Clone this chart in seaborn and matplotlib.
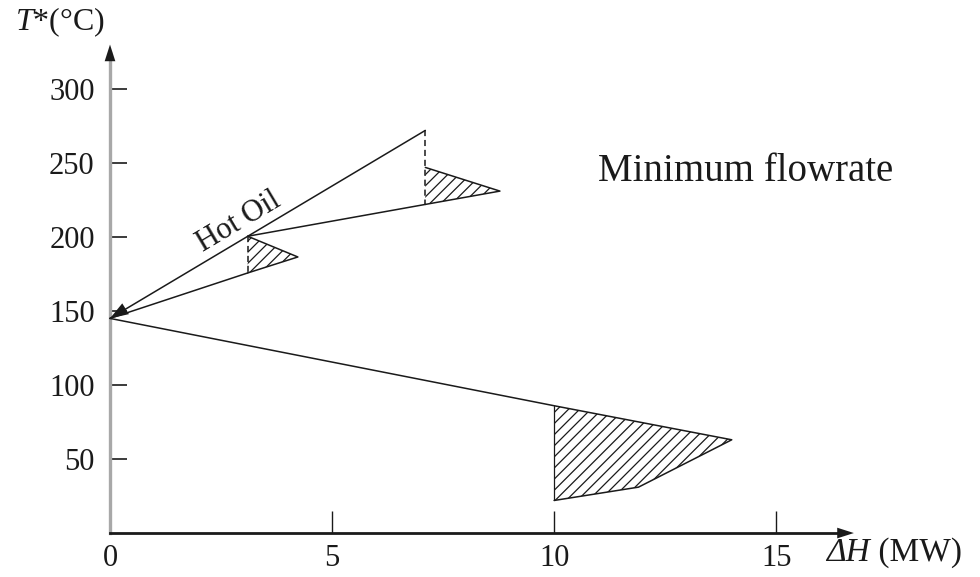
import numpy as np
import matplotlib
matplotlib.use("Agg")
import matplotlib.pyplot as plt
import seaborn as sns

# ---- data: grand composite curve with hot-oil utility profile ----
hot_oil_dh = [0.0, 7.1]
hot_oil_t = [145.0, 272.0]

upper_pocket_dh = [7.1, 8.78, 7.1]
upper_pocket_t = [247.0, 231.0, 222.0]

middle_pocket_dh = [3.1, 4.23, 3.1]
middle_pocket_t = [200.5, 186.5, 175.7]

gcc_upper_dh = [7.1, 3.1]
gcc_upper_t = [222.0, 200.5]

gcc_mid_dh = [3.1, 0.0]
gcc_mid_t = [175.7, 145.0]

gcc_lower_dh = [0.0, 10.0, 14.0, 11.9, 10.0]
gcc_lower_t = [145.0, 86.0, 63.0, 31.0, 22.0]

x_ticks = [0, 5, 10, 15]
y_ticks = [50, 100, 150, 200, 250, 300]

sns.set_theme(style="white")
plt.rcParams["font.family"] = ["Liberation Serif", "DejaVu Serif"]
plt.rcParams["mathtext.fontset"] = "custom"
plt.rcParams["mathtext.rm"] = "Liberation Serif"
plt.rcParams["mathtext.it"] = "Liberation Serif:italic"
plt.rcParams["hatch.linewidth"] = 0.9

FS = 22
INK = "#1a1a1a"

fig = plt.figure(figsize=(9.8, 5.77), dpi=100)
ax = fig.add_axes([0, 0, 1, 1])
ax.set_xlim(-2.477, 19.59)
ax.set_ylim(-29.7, 360.1)

# axes through the origin
for side in ("top", "right"):
    ax.spines[side].set_visible(False)
ax.spines["left"].set_position(("data", 0))
ax.spines["bottom"].set_position(("data", 0))
ax.spines["left"].set_bounds(0, 324)
ax.spines["bottom"].set_bounds(0, 16.4)
ax.spines["left"].set_color("#a8a8a8")
ax.spines["left"].set_linewidth(2.4)
ax.spines["bottom"].set_color(INK)
ax.spines["bottom"].set_linewidth(2.0)
ax.spines["left"].set_zorder(1)

ax.set_xticks(x_ticks)
ax.set_yticks(y_ticks)
ax.set_xticklabels([str(v) for v in x_ticks])
ax.set_yticklabels([str(v) for v in y_ticks])
ax.tick_params(axis="y", direction="in", length=12, width=1.2, color=INK,
               pad=11, labelsize=FS, labelcolor=INK, left=True)
ax.tick_params(axis="x", direction="in", length=16, width=1.0, color=INK,
               pad=8, labelsize=FS, labelcolor=INK, bottom=True)
ax.grid(False)

# axis arrowheads
head = "-|>,head_length=1.0,head_width=0.32"
ax.annotate("", xy=(0, 330), xytext=(0, 316),
            arrowprops=dict(arrowstyle=head, color=INK, lw=0, shrinkA=0, shrinkB=0))
ax.annotate("", xy=(16.75, 0), xytext=(16.3, 0),
            arrowprops=dict(arrowstyle=head, color=INK, lw=0, shrinkA=0, shrinkB=0))

line_kw = dict(color=INK, linewidth=1.1, sort=False, estimator=None, ax=ax)
dash_kw = dict(color=INK, linewidth=1.1, sort=False, estimator=None, ax=ax,
               linestyle=(0, (4, 2.5)))

# hatched heat pockets
for dh, t in ((upper_pocket_dh, upper_pocket_t),
              (middle_pocket_dh, middle_pocket_t),
              (gcc_lower_dh[1:], gcc_lower_t[1:])):
    ax.fill(dh, t, facecolor="none", edgecolor=INK, hatch="///", linewidth=0)

# hot oil line
sns.lineplot(x=hot_oil_dh, y=hot_oil_t, **line_kw)

# grand composite curve segments
sns.lineplot(x=upper_pocket_dh, y=upper_pocket_t, **line_kw)
sns.lineplot(x=middle_pocket_dh, y=middle_pocket_t, **line_kw)
sns.lineplot(x=gcc_upper_dh, y=gcc_upper_t, **line_kw)
sns.lineplot(x=gcc_mid_dh, y=gcc_mid_t, **line_kw)
sns.lineplot(x=gcc_lower_dh, y=gcc_lower_t, **line_kw)

# vertical drops at the pocket boundaries
sns.lineplot(x=[hot_oil_dh[1], gcc_upper_dh[0]], y=[hot_oil_t[1], gcc_upper_t[0]], **dash_kw)
sns.lineplot(x=[middle_pocket_dh[0], middle_pocket_dh[2]],
             y=[middle_pocket_t[0], middle_pocket_t[2]], **dash_kw)
sns.lineplot(x=[gcc_lower_dh[1], gcc_lower_dh[4]], y=[gcc_lower_t[1], gcc_lower_t[4]],
             color=INK, linewidth=0.9, sort=False, estimator=None, ax=ax)

# arrowhead where the curves meet the T axis
ax.annotate("", xy=(0.0, 145.0), xytext=(0.7, 158.0),
            arrowprops=dict(arrowstyle="-|>,head_length=1.1,head_width=0.38",
                            color=INK, lw=0, shrinkA=0, shrinkB=0))

# label along the hot oil line
fig.canvas.draw()
p0 = ax.transData.transform((hot_oil_dh[0], hot_oil_t[0]))
p1 = ax.transData.transform((hot_oil_dh[1], hot_oil_t[1]))
angle = np.degrees(np.arctan2(p1[1] - p0[1], p1[0] - p0[0]))
nrm = np.array([-np.sin(np.radians(angle)), np.cos(np.radians(angle))]) * 9
ax.annotate("Hot Oil", xy=(3.1, 145.0 + (272.0 - 145.0) * 3.1 / 7.1),
            xytext=(nrm[0], nrm[1]), textcoords="offset pixels",
            rotation=angle, rotation_mode="anchor", ha="center", va="baseline",
            fontsize=FS, color=INK)

ax.text(10.99, 244, "Minimum flowrate", fontsize=28, color=INK,
        ha="left", va="center")
ax.text(-1.13, 345, r"$T$*(°C)", fontsize=23, color=INK,
        ha="center", va="center")
dh_lbl = ax.text(16.13, -13.5, "ΔH", fontsize=24, color=INK, style="italic",
                 ha="left", va="center")
ax.annotate(" (MW)", xy=(1, 0), xycoords=dh_lbl, fontsize=24, color=INK,
            ha="left", va="bottom")

fig.savefig("out.png", dpi=100)
